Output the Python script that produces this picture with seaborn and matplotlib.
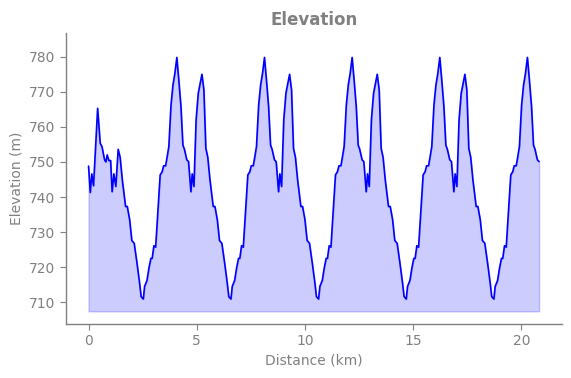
import matplotlib
matplotlib.use("Agg")
import matplotlib.pyplot as plt
import numpy as np
import pandas as pd
import seaborn as sns

sns.set_theme(style="ticks")
plt.rcParams["font.family"] = ["DejaVu Sans"]

# opening stretch before the first full lap
start_km = [0.00, 0.08, 0.15, 0.23, 0.42, 0.54, 0.62, 0.74, 0.80, 0.86, 0.94, 1.02, 1.09, 1.17, 1.26]
start_elev = [748.8, 741.3, 746.6, 743.2, 765.3, 755.3, 754.4, 750.6, 750.0, 752.0, 750.4, 750.4, 741.5, 746.6, 743.0]

lap1_km = [1.37, 1.46, 1.56, 1.71, 1.79, 1.90, 2.00, 2.11, 2.24, 2.36, 2.43, 2.53, 2.59, 2.70, 2.79,
           2.88, 2.94, 3.02, 3.10, 3.19, 3.31, 3.40, 3.47, 3.56, 3.62, 3.71, 3.81, 3.90, 3.99, 4.08,
           4.17, 4.27, 4.36, 4.43, 4.54, 4.62, 4.73, 4.79, 4.87, 4.97, 5.07, 5.16, 5.24, 5.33]
lap2_km = [5.42, 5.51, 5.61, 5.76, 5.84, 5.95, 6.05, 6.16, 6.29, 6.41, 6.48, 6.58, 6.64, 6.75, 6.84,
           6.93, 6.99, 7.07, 7.15, 7.24, 7.36, 7.45, 7.52, 7.61, 7.67, 7.76, 7.86, 7.95, 8.04, 8.13,
           8.22, 8.32, 8.41, 8.48, 8.59, 8.67, 8.78, 8.84, 8.92, 9.02, 9.12, 9.21, 9.29, 9.38]
lap3_km = [9.47, 9.56, 9.66, 9.81, 9.89, 10.00, 10.10, 10.21, 10.34, 10.46, 10.53, 10.63, 10.69, 10.80, 10.89,
           10.98, 11.04, 11.12, 11.20, 11.29, 11.41, 11.50, 11.57, 11.66, 11.72, 11.81, 11.91, 12.00, 12.09, 12.18,
           12.27, 12.37, 12.46, 12.53, 12.64, 12.72, 12.83, 12.89, 12.97, 13.07, 13.17, 13.26, 13.34, 13.43]
lap4_km = [13.52, 13.61, 13.71, 13.86, 13.94, 14.05, 14.15, 14.26, 14.39, 14.51, 14.58, 14.68, 14.74, 14.85, 14.94,
           15.03, 15.09, 15.17, 15.25, 15.34, 15.46, 15.55, 15.62, 15.71, 15.77, 15.86, 15.96, 16.05, 16.14, 16.23,
           16.32, 16.42, 16.51, 16.58, 16.69, 16.77, 16.88, 16.94, 17.02, 17.12, 17.22, 17.31, 17.39, 17.48]
lap5_km = [17.57, 17.66, 17.76, 17.91, 17.99, 18.10, 18.20, 18.31, 18.44, 18.56, 18.63, 18.73, 18.79, 18.90, 18.99,
           19.08, 19.14, 19.22, 19.30, 19.39, 19.51, 19.60, 19.67, 19.76, 19.82, 19.91, 20.01, 20.10, 20.19, 20.28,
           20.37, 20.47, 20.56, 20.63, 20.74, 20.82]

lap1_elev = [753.6, 751.3, 744.9, 737.3, 737.3, 733.5, 727.6, 726.8, 721.1, 715.4, 711.6, 710.9, 714.5, 716.2, 719.7,
             722.5, 722.5, 726.1, 725.7, 734.4, 746.3, 747.2, 748.9, 748.9, 751.0, 754.4, 766.2, 771.9, 775.3, 779.8,
             773.4, 765.8, 754.8, 753.6, 750.6, 750.1, 741.5, 746.6, 743.0, 762.0, 769.6, 772.4, 775.0, 770.5]
lap2_elev = [753.9, 751.3, 744.9, 737.3, 737.3, 733.5, 727.6, 726.8, 721.1, 715.4, 711.6, 710.9, 714.5, 716.2, 719.7,
             722.5, 722.5, 726.1, 725.7, 734.4, 746.3, 747.2, 748.9, 748.9, 751.0, 754.4, 766.2, 771.9, 775.3, 779.8,
             773.4, 765.8, 754.8, 753.6, 750.6, 750.1, 741.5, 746.6, 743.0, 762.0, 769.6, 772.4, 775.0, 770.5]
lap3_elev = [753.9, 751.3, 744.9, 737.3, 737.3, 733.5, 727.6, 726.8, 721.1, 715.4, 711.6, 710.9, 714.5, 716.2, 719.7,
             722.5, 722.5, 726.1, 725.7, 734.4, 746.3, 747.2, 748.9, 748.9, 751.0, 754.4, 766.2, 771.9, 775.3, 779.8,
             773.4, 765.8, 754.8, 753.6, 750.6, 750.1, 741.5, 746.6, 743.0, 762.0, 769.6, 772.4, 775.0, 770.5]
lap4_elev = [753.9, 751.3, 744.9, 737.3, 737.3, 733.5, 727.6, 726.8, 721.1, 715.4, 711.6, 710.9, 714.5, 716.2, 719.7,
             722.5, 722.5, 726.1, 725.7, 734.4, 746.3, 747.2, 748.9, 748.9, 751.0, 754.4, 766.2, 771.9, 775.3, 779.8,
             773.4, 765.8, 754.8, 753.6, 750.6, 750.1, 741.5, 746.6, 743.0, 762.0, 769.6, 772.4, 775.0, 770.5]
lap5_elev = [753.9, 751.3, 744.9, 737.3, 737.3, 733.5, 727.6, 726.8, 721.1, 715.4, 711.6, 710.9, 714.5, 716.2, 719.7,
             722.5, 722.5, 726.1, 725.7, 734.4, 746.3, 747.2, 748.9, 748.9, 751.0, 754.4, 766.2, 771.9, 775.3, 779.8,
             773.4, 765.8, 754.8, 753.6, 750.6, 750.1]

distance = np.array(start_km + lap1_km + lap2_km + lap3_km + lap4_km + lap5_km)
elevation = np.array(start_elev + lap1_elev + lap2_elev + lap3_elev + lap4_elev + lap5_elev)
df = pd.DataFrame({"distance": distance, "elevation": elevation})

grey = "#808080"
fig = plt.figure(figsize=(5.71, 3.78), dpi=100)
ax = fig.add_axes([0.1156, 0.143, 0.868, 0.770])

sns.lineplot(data=df, x="distance", y="elevation", ax=ax, color="blue", linewidth=1.2)
baseline = elevation.min() - 3.5
ax.fill_between(distance, elevation, baseline, color="blue", alpha=0.2)

ax.set_ylim(703.8, 786.8)
ax.set_xticks([0, 5, 10, 15, 20])
ax.set_yticks([710, 720, 730, 740, 750, 760, 770, 780])
ax.set_title("Elevation", color=grey, fontsize=12, fontweight="bold")
ax.set_xlabel("Distance (km)", color=grey, fontsize=10)
ax.set_ylabel("Elevation (m)", color=grey, fontsize=10)
ax.tick_params(colors=grey, labelsize=10, length=4, width=0.8)
for side in ["left", "bottom"]:
    ax.spines[side].set_color(grey)
    ax.spines[side].set_linewidth(1.0)
sns.despine(ax=ax)

fig.savefig("out.png", dpi=100)
